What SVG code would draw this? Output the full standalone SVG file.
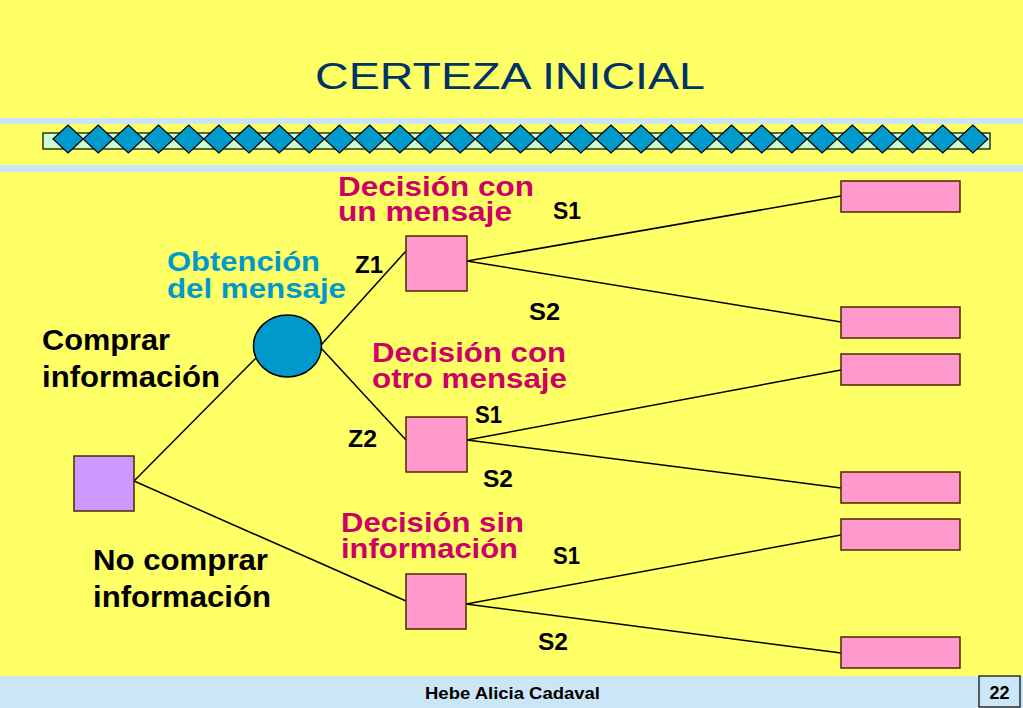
<svg xmlns="http://www.w3.org/2000/svg" width="1023" height="708" viewBox="0 0 1023 708">
<style>
.bg{fill:#ffff66}
.stripe{fill:#cce6f7}
.t{font-family:"Liberation Sans",Arial,sans-serif;font-weight:bold}
.blk{fill:#000}
.mag{fill:#cc0066}
.cy{fill:#0099cc}
.dec{fill:#ff99cc;stroke:#4d2600;stroke-width:1.5}
.end{fill:#ff99cc;stroke:#4d2600;stroke-width:1.5}
.dia{fill:#0099cc;stroke:#000;stroke-width:1.2}
.conn line{stroke:#000;stroke-width:1.5}
</style>
<defs>
<polygon id="dm" points="0,139 15.08,125 30.16,139 15.08,153" class="dia"/>
</defs>
<rect class="bg" x="0" y="0" width="1023" height="708"/>
<rect class="stripe" x="0" y="118" width="1023" height="6"/>
<rect class="stripe" x="0" y="165" width="1023" height="7"/>
<rect class="stripe" x="0" y="676" width="1023" height="32"/>

<text x="315" y="89" font-family="Liberation Sans,Arial,sans-serif" font-size="37" fill="#003366" textLength="390" lengthAdjust="spacingAndGlyphs">CERTEZA INICIAL</text>

<g id="band">
<rect x="43" y="133" width="947" height="16" fill="#ccffcc" stroke="#000" stroke-width="1.2"/>
<use href="#dm" x="53"/><use href="#dm" x="83.16"/><use href="#dm" x="113.32"/><use href="#dm" x="143.48"/><use href="#dm" x="173.64"/><use href="#dm" x="203.8"/><use href="#dm" x="233.96"/><use href="#dm" x="264.12"/><use href="#dm" x="294.28"/><use href="#dm" x="324.44"/><use href="#dm" x="354.6"/><use href="#dm" x="384.76"/><use href="#dm" x="414.92"/><use href="#dm" x="445.08"/><use href="#dm" x="475.24"/><use href="#dm" x="505.4"/><use href="#dm" x="535.56"/><use href="#dm" x="565.72"/><use href="#dm" x="595.88"/><use href="#dm" x="626.04"/><use href="#dm" x="656.2"/><use href="#dm" x="686.36"/><use href="#dm" x="716.52"/><use href="#dm" x="746.68"/><use href="#dm" x="776.84"/><use href="#dm" x="807"/><use href="#dm" x="837.16"/><use href="#dm" x="867.32"/><use href="#dm" x="897.48"/><use href="#dm" x="927.64"/><use href="#dm" x="957.8"/>
</g>

<g id="connectors" class="conn">
<line x1="134" y1="481" x2="256" y2="358"/>
<line x1="134" y1="481" x2="406" y2="601"/>
<line x1="321" y1="345" x2="406" y2="251"/>
<line x1="321" y1="348" x2="406" y2="440"/>
<line x1="467" y1="261" x2="841" y2="196"/>
<line x1="467" y1="261" x2="841" y2="322"/>
<line x1="467" y1="440" x2="841" y2="370"/>
<line x1="467" y1="440" x2="841" y2="488"/>
<line x1="466" y1="604" x2="841" y2="535"/>
<line x1="466" y1="604" x2="841" y2="653"/>
</g>

<g id="root"><rect x="74" y="456" width="60" height="55" fill="#cc99ff" stroke="#4d2600" stroke-width="1.5"/></g>
<g id="chance"><ellipse cx="287.5" cy="346" rx="34" ry="31" fill="#0099cc" stroke="#000" stroke-width="1.5"/></g>
<g id="d1"><rect class="dec" x="406" y="236" width="61" height="55"/></g>
<g id="d2"><rect class="dec" x="406" y="417" width="61" height="55"/></g>
<g id="d3"><rect class="dec" x="406" y="574" width="60" height="55"/></g>
<g id="e1"><rect class="end" x="841" y="181" width="119" height="31"/></g>
<g id="e2"><rect class="end" x="841" y="307" width="119" height="31"/></g>
<g id="e3"><rect class="end" x="841" y="354" width="119" height="31"/></g>
<g id="e4"><rect class="end" x="841" y="472" width="119" height="31"/></g>
<g id="e5"><rect class="end" x="841" y="519" width="119" height="31"/></g>
<g id="e6"><rect class="end" x="841" y="637" width="119" height="31"/></g>

<g id="labels" class="t">
<text class="mag" font-size="27"><tspan x="338" y="196" textLength="196" lengthAdjust="spacingAndGlyphs">Decisión con</tspan><tspan x="338" y="221" textLength="174" lengthAdjust="spacingAndGlyphs">un mensaje</tspan></text>
<text class="cy" font-size="28"><tspan x="167" y="271" textLength="153" lengthAdjust="spacingAndGlyphs">Obtención</tspan><tspan x="167" y="298" textLength="179" lengthAdjust="spacingAndGlyphs">del mensaje</tspan></text>
<text class="blk" font-size="29"><tspan x="42" y="350" textLength="128" lengthAdjust="spacingAndGlyphs">Comprar</tspan><tspan x="42" y="387" textLength="178" lengthAdjust="spacingAndGlyphs">información</tspan></text>
<text class="mag" font-size="27"><tspan x="372" y="362" textLength="194" lengthAdjust="spacingAndGlyphs">Decisión con</tspan><tspan x="372" y="388" textLength="195" lengthAdjust="spacingAndGlyphs">otro mensaje</tspan></text>
<text class="mag" font-size="27"><tspan x="341" y="532" textLength="183" lengthAdjust="spacingAndGlyphs">Decisión sin</tspan><tspan x="341" y="558" textLength="177" lengthAdjust="spacingAndGlyphs">información</tspan></text>
<text class="blk" font-size="29"><tspan x="93" y="570" textLength="175" lengthAdjust="spacingAndGlyphs">No comprar</tspan><tspan x="93" y="607" textLength="178" lengthAdjust="spacingAndGlyphs">información</tspan></text>
<text class="blk" x="553" y="219" font-size="23" textLength="28" lengthAdjust="spacingAndGlyphs">S1</text>
<text class="blk" x="355" y="273" font-size="23" textLength="28" lengthAdjust="spacingAndGlyphs">Z1</text>
<text class="blk" x="529" y="320" font-size="23" textLength="31" lengthAdjust="spacingAndGlyphs">S2</text>
<text class="blk" x="475" y="423" font-size="23" textLength="27" lengthAdjust="spacingAndGlyphs">S1</text>
<text class="blk" x="348" y="447" font-size="23" textLength="29" lengthAdjust="spacingAndGlyphs">Z2</text>
<text class="blk" x="483" y="487" font-size="23" textLength="30" lengthAdjust="spacingAndGlyphs">S2</text>
<text class="blk" x="553" y="564" font-size="23" textLength="27" lengthAdjust="spacingAndGlyphs">S1</text>
<text class="blk" x="538" y="650" font-size="23" textLength="30" lengthAdjust="spacingAndGlyphs">S2</text>
</g>

<g id="footer">
<text class="t blk" x="425" y="699" font-size="17" textLength="175" lengthAdjust="spacingAndGlyphs">Hebe Alicia Cadaval</text>
<rect x="979" y="676" width="41" height="31" fill="#cce6f7" stroke="#000" stroke-width="1.2"/>
<text class="t blk" x="999.5" y="699" font-size="18" text-anchor="middle">22</text>
</g>
</svg>
